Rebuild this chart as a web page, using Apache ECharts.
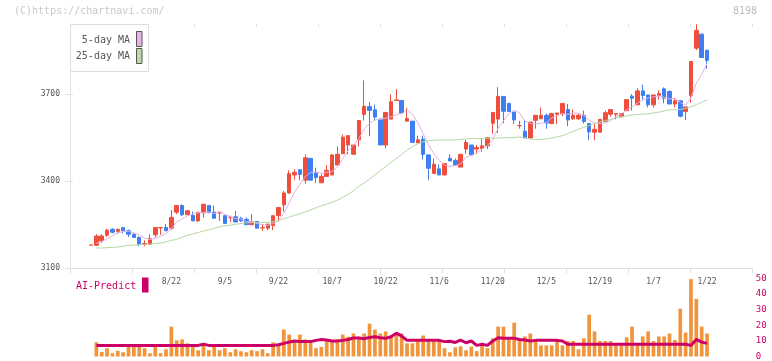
<!DOCTYPE html>
<html><head><meta charset="utf-8">
<script src="https://cdn.jsdelivr.net/npm/echarts@6/dist/echarts.min.js"></script>
<style>html,body{margin:0;padding:0;background:#fff}#c{width:772px;height:361px}</style>
</head><body><div id="c"></div>
<script>
const dates = ['7/31','8/1','8/4','8/5','8/6','8/7','8/8','8/12','8/13','8/14','8/15','8/18','8/19','8/20','8/21','8/22','8/25','8/26','8/27','8/28','8/29','9/1','9/2','9/3','9/4','9/5','9/8','9/9','9/10','9/11','9/12','9/16','9/17','9/18','9/19','9/22','9/24','9/25','9/26','9/29','9/30','10/1','10/2','10/3','10/6','10/7','10/8','10/9','10/10','10/14','10/15','10/16','10/17','10/20','10/21','10/22','10/23','10/24','10/27','10/28','10/29','10/30','10/31','11/4','11/5','11/6','11/7','11/10','11/11','11/12','11/13','11/14','11/17','11/18','11/19','11/20','11/21','11/25','11/26','11/27','11/28','12/1','12/2','12/3','12/4','12/5','12/8','12/9','12/10','12/11','12/12','12/15','12/16','12/17','12/18','12/19','12/22','12/23','12/24','12/25','12/26','12/29','12/30','1/5','1/6','1/7','1/8','1/9','1/13','1/14','1/15','1/16','1/19','1/20','1/21','1/22'];
const tickLabels = ['8/22','9/5','9/22','10/7','10/22','11/6','11/20','12/5','12/19','1/7','1/22'];
const priceTicks = [3100, 3400, 3700];
const volTicks = [0, 10, 20, 30, 40, 50];

const opens = [3180,3179,3194,3214,3234,3227,3240,3229,3217,3206,3184,3183,3215,3239,3240,3238,3293,3316,3284,3282,3263,3291,3316,3293,3290,3281,3274,3277,3272,3268,3250,3261,3239,3238,3247,3281,3318,3359,3421,3439,3403,3478,3430,3394,3416,3421,3455,3494,3524,3492,3542,3629,3656,3645,3613,3524,3613,3677,3677,3606,3606,3531,3544,3490,3426,3442,3421,3478,3471,3448,3510,3524,3510,3512,3521,3599,3613,3691,3667,3637,3590,3571,3548,3609,3614,3626,3598,3630,3632,3646,3614,3614,3626,3598,3568,3568,3605,3630,3630,3621,3642,3692,3662,3710,3696,3662,3694,3717,3708,3665,3676,3639,3694,3857,3905,3850];
const closes = [3180,3211,3211,3231,3224,3234,3229,3217,3206,3183,3185,3202,3240,3240,3229,3275,3316,3284,3298,3263,3293,3320,3291,3272,3293,3254,3275,3259,3263,3250,3261,3238,3240,3252,3281,3309,3359,3425,3430,3423,3480,3403,3412,3416,3437,3490,3492,3551,3556,3524,3608,3657,3643,3620,3524,3636,3673,3679,3634,3615,3533,3542,3492,3444,3458,3421,3460,3469,3455,3492,3533,3490,3515,3521,3549,3636,3691,3640,3639,3610,3591,3548,3603,3626,3626,3600,3632,3634,3667,3610,3626,3626,3605,3569,3578,3612,3635,3646,3632,3632,3680,3685,3710,3694,3662,3696,3701,3685,3665,3676,3623,3655,3811,3918,3825,3815];
const lows = [3180,3178,3188,3208,3220,3220,3220,3208,3204,3176,3176,3183,3206,3215,3229,3233,3286,3279,3284,3263,3259,3275,3291,3272,3263,3252,3259,3259,3259,3250,3250,3238,3229,3231,3231,3261,3295,3357,3403,3403,3391,3403,3394,3394,3414,3421,3455,3494,3492,3492,3519,3608,3554,3608,3524,3512,3613,3675,3634,3606,3533,3531,3474,3403,3426,3421,3421,3469,3453,3448,3494,3490,3494,3501,3510,3563,3565,3599,3639,3596,3580,3548,3548,3580,3614,3580,3596,3596,3623,3589,3610,3610,3598,3541,3541,3568,3605,3621,3612,3621,3642,3642,3662,3678,3653,3653,3680,3667,3665,3653,3619,3610,3669,3850,3825,3786];
const highs = [3180,3217,3217,3236,3238,3237,3240,3233,3220,3210,3196,3217,3240,3240,3252,3300,3316,3320,3300,3295,3293,3320,3316,3316,3293,3281,3281,3297,3277,3275,3286,3261,3252,3252,3281,3309,3366,3437,3441,3439,3492,3478,3446,3425,3455,3492,3519,3560,3556,3524,3608,3746,3672,3663,3613,3636,3698,3716,3677,3652,3606,3556,3556,3490,3478,3458,3460,3492,3478,3492,3542,3524,3524,3547,3549,3636,3723,3691,3667,3637,3607,3607,3603,3626,3653,3632,3632,3634,3667,3665,3646,3632,3642,3598,3596,3612,3642,3646,3632,3632,3680,3699,3719,3731,3696,3696,3712,3722,3712,3685,3676,3655,3811,3939,3907,3850];

const ma5 = [null,3185,3192,3202,3211,3222,3226,3227,3222,3214,3204,3199,3203,3210,3219,3237,3260,3269,3280,3287,3291,3292,3293,3288,3294,3286,3277,3271,3269,3260,3262,3254,3250,3248,3254,3264,3288,3325,3361,3389,3415,3430,3430,3427,3430,3432,3449,3477,3505,3523,3546,3579,3598,3610,3612,3616,3621,3628,3632,3645,3630,3601,3563,3525,3494,3471,3455,3450,3453,3459,3482,3488,3497,3510,3522,3542,3582,3607,3631,3643,3634,3606,3598,3596,3599,3601,3617,3624,3632,3629,3634,3633,3627,3607,3601,3598,3600,3608,3621,3631,3645,3655,3668,3680,3686,3689,3693,3688,3682,3685,3670,3661,3686,3737,3766,3805];
const ma25 = [null,3170,3170,3171,3172,3173,3176,3179,3180,3181,3182,3183,3185,3187,3191,3196,3199,3207,3213,3218,3223,3228,3232,3237,3243,3246,3248,3251,3254,3256,3257,3257,3257,3258,3261,3264,3270,3276,3282,3288,3294,3301,3308,3315,3321,3327,3334,3344,3354,3367,3382,3393,3407,3421,3436,3450,3464,3478,3492,3506,3518,3528,3535,3539,3540,3541,3541,3541,3542,3543,3545,3546,3546,3546,3547,3547,3548,3549,3549,3550,3551,3549,3545,3543,3543,3545,3548,3552,3556,3563,3571,3578,3585,3591,3598,3603,3608,3612,3617,3621,3624,3627,3629,3630,3631,3634,3637,3641,3645,3645,3646,3650,3655,3663,3671,3679];

const volume = [null,9.2,2.9,5.3,2.1,3.6,2.7,6.3,6.3,6.3,5.3,2.1,6.3,2.1,4.6,19.1,10.3,10.9,8.4,6.3,4.0,6.9,4.0,6.3,4.0,5.3,2.7,4.6,3.4,2.7,4.0,3.4,4.6,2.1,9.0,7.6,17.2,14.0,9.5,14.0,10.9,10.5,5.3,6.1,10.9,9.5,10.9,14.0,12.6,14.7,12.6,14.7,21.0,17.2,14.7,16.0,13.4,14.7,14.7,8.4,8.4,9.9,13.4,9.9,9.9,9.9,5.3,2.7,5.9,6.5,4.0,6.3,3.4,7.1,5.3,11.6,19.1,19.1,11.6,21.6,10.3,12.8,14.7,10.3,7.1,7.1,7.1,10.3,7.1,9.9,9.9,4.6,11.6,26.7,16.0,9.9,9.9,9.9,7.1,7.1,12.2,19.1,7.1,12.8,16.0,9.9,12.8,12.8,14.7,10.5,30.5,15.3,49.4,36.8,19.1,14.7];
const aiPredict = [null,7.1,7.1,7.1,7.1,7.1,7.1,7.1,7.1,7.1,7.1,7.1,7.1,7.1,7.1,7.1,7.1,7.1,7.1,7.1,7.1,7.8,7.1,7.1,7.1,7.1,7.1,7.1,7.1,7.1,7.1,7.1,7.1,7.1,7.1,7.5,8.4,9.2,9.9,9.5,9.5,9.5,10.3,10.9,10.5,9.9,9.9,10.3,10.9,11.8,11.8,11.3,12.2,12.6,12.0,11.6,12.6,14.9,13.0,10.3,10.3,10.3,10.3,10.3,10.3,10.3,9.5,9.7,9.0,10.5,8.8,9.9,7.1,7.8,7.1,9.9,12.0,11.6,11.6,11.6,10.9,10.5,9.9,10.3,10.3,10.3,10.3,10.3,9.9,7.8,7.8,7.8,7.8,7.8,7.8,7.8,7.8,7.8,7.8,7.8,7.8,7.8,7.8,7.8,7.8,7.8,7.8,7.8,7.8,7.8,7.8,7.8,7.1,10.9,9.2,8.4];

const UP = '#f04e3c', DOWN = '#3f7fef', MONO = "'DejaVu Sans Mono', monospace";
const candleData = opens.map((o, i) => [o, closes[i], lows[i], highs[i]]);

const chart = echarts.init(document.getElementById('c'), null, {renderer: 'canvas'});
const plotLeft = 88.32, plotW = 621.4;
chart.setOption({
  animation: false,
  backgroundColor: '#fff',
  grid: [
    {left: plotLeft, width: plotW, top: 24, height: 244.3},
    {left: 70, width: 682, top: 24, height: 244.3},
    {left: plotLeft, width: plotW, top: 278.2, height: 79.4}
  ],
  xAxis: [
    {type: 'category', gridIndex: 0, data: dates, boundaryGap: true,
     axisLine: {show: false}, axisTick: {show: false}, splitLine: {show: false},
     axisLabel: {interval: (idx, val) => tickLabels.includes(val), fontFamily: MONO, fontSize: 8, color: '#555', margin: 10}},
    {type: 'value', gridIndex: 1, min: 0, max: 11, interval: 1,
     axisLine: {show: true, lineStyle: {color: '#e0e0e0', width: 1}},
     axisTick: {show: true, inside: false, length: 5, lineStyle: {color: '#e0e0e0'}},
     axisLabel: {show: false}, splitLine: {show: false}},
    {type: 'value', gridIndex: 1, min: 0, max: 11, interval: 1,
     axisLine: {show: false}, axisTick: {show: true, inside: true, length: 3, lineStyle: {color: '#e0e0e0'}},
     axisLabel: {show: false}, splitLine: {show: false}},
    {type: 'category', gridIndex: 2, data: dates, boundaryGap: true, show: false}
  ],
  yAxis: [
    {type: 'value', gridIndex: 0, min: 3100, max: 3940, show: false, splitLine: {show: false}},
    {type: 'value', gridIndex: 1, min: 3100, max: 3940, position: 'left',
     axisLine: {show: true, lineStyle: {color: '#e0e0e0', width: 1}},
     axisTick: {show: true, inside: false, length: 5, customValues: priceTicks, lineStyle: {color: '#e0e0e0'}},
     axisLabel: {customValues: priceTicks, formatter: v => String(v), fontFamily: MONO, fontSize: 8, color: '#555', margin: 10},
     splitLine: {show: false}},
    {type: 'value', gridIndex: 1, min: 3100, max: 3940, position: 'left',
     axisLine: {show: false},
     axisTick: {show: true, inside: true, length: 3, customValues: priceTicks, lineStyle: {color: '#e0e0e0'}},
     axisLabel: {show: false}, splitLine: {show: false}},
    {type: 'value', gridIndex: 2, min: 0, max: 50, interval: 10, position: 'right',
     axisLine: {show: false}, axisTick: {show: false}, splitLine: {show: false},
     axisLabel: {customValues: volTicks, formatter: v => String(v), fontFamily: MONO, fontSize: 9, color: '#cc0066', margin: 46, align: 'left'}}
  ],
  series: [
    {type: 'candlestick', xAxisIndex: 0, yAxisIndex: 0, data: candleData, barWidth: 4,
     itemStyle: {color: UP, color0: DOWN, borderColor: UP, borderColor0: DOWN, borderWidth: 1}},
    {type: 'line', xAxisIndex: 0, yAxisIndex: 0, data: ma5, showSymbol: false, symbol: 'none',
     lineStyle: {color: '#e6b0e6', width: 1}, z: 3},
    {type: 'line', xAxisIndex: 0, yAxisIndex: 0, data: ma25, showSymbol: false, symbol: 'none',
     lineStyle: {color: '#b4d9a2', width: 1}, z: 3},
    {type: 'bar', xAxisIndex: 3, yAxisIndex: 3, data: volume, barWidth: 3.7,
     itemStyle: {color: '#f0953c'}},
    {type: 'line', xAxisIndex: 3, yAxisIndex: 3, data: aiPredict, showSymbol: false, symbol: 'none',
     lineStyle: {color: '#cc0066', width: 3}, z: 4}
  ],
  graphic: [
    {type: 'text', left: 14, top: 6, style: {text: '(C)https://chartnavi.com/', font: '10px ' + MONO, fill: '#c8c8c8'}},
    {type: 'text', right: 15, top: 6, style: {text: '8198', font: '10px ' + MONO, fill: '#bbbbbb'}},
    {type: 'rect', shape: {x: 70.5, y: 24.5, width: 78, height: 47}, style: {fill: '#fff', stroke: '#dddddd', lineWidth: 1}, z: 10},
    {type: 'text', z: 11, style: {text: '5-day MA', x: 130, y: 40, align: 'right', verticalAlign: 'middle', font: '10px ' + MONO, fill: '#555'}},
    {type: 'rect', z: 11, shape: {x: 136.5, y: 31.5, width: 5.5, height: 15}, style: {fill: '#e8b4e8', stroke: '#555', lineWidth: 1}},
    {type: 'text', z: 11, style: {text: '25-day MA', x: 130, y: 56.5, align: 'right', verticalAlign: 'middle', font: '10px ' + MONO, fill: '#555'}},
    {type: 'rect', z: 11, shape: {x: 136.5, y: 48.5, width: 5.5, height: 15}, style: {fill: '#b8dca8', stroke: '#555', lineWidth: 1}},
    {type: 'text', z: 11, style: {text: 'AI-Predict', x: 76, y: 286, verticalAlign: 'middle', font: '10px ' + MONO, fill: '#cc0066'}},
    {type: 'rect', z: 11, shape: {x: 142, y: 277.5, width: 6.5, height: 15}, style: {fill: '#cc0066'}}
  ]
});
</script></body></html>
